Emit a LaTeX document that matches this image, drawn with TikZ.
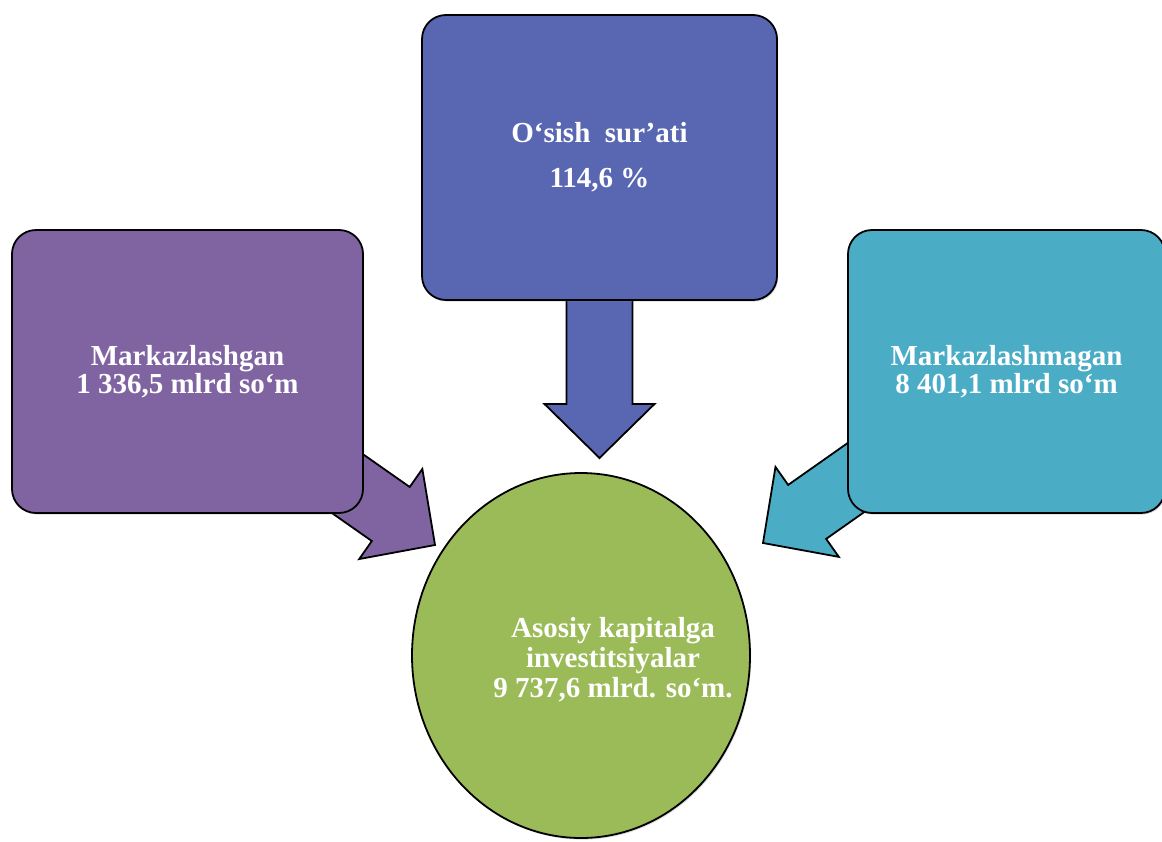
\documentclass[tikz,border=0pt]{standalone}
\usepackage{fontspec}
\setmainfont{Liberation Serif}
\usetikzlibrary{shapes.geometric,backgrounds,calc,shadows}

\definecolor{boxblue}{RGB}{89,102,178}
\definecolor{boxpurple}{RGB}{128,100,162}
\definecolor{boxteal}{RGB}{75,172,198}
\definecolor{circgreen}{RGB}{155,187,89}

\tikzset{
	panel/.style={draw=black, line width=0.9pt, rounded corners=12pt, inner sep=0pt,
		align=center, text=white, font=\bfseries\fontsize{14.5}{14}\selectfont,
		drop shadow={shadow xshift=0.6pt, shadow yshift=-0.8pt, opacity=0.3}},
	arrowbody/.style={draw=black, line width=0.9pt, fill=#1, line join=miter},
}

% fat arrow from #1 to #2, coloured #3
\newcommand{\fatarrow}[3]{%
	\draw[arrowbody=#3] let \p1=(#1), \p2=(#2),
		\n1={atan2(\y2-\y1,\x2-\x1)}, \n2={veclen(\x2-\x1,\y2-\y1)} in
		{[shift={(\p2)}, rotate=\n1] (0,0) -- (-27pt,27.5pt) -- (-27pt,16.5pt) -- (-\n2,16.5pt)
		-- (-\n2,-16.5pt) -- (-27pt,-16.5pt) -- (-27pt,-27.5pt) -- cycle};
}

\begin{document}
\begin{tikzpicture}[x=0.5pt,y=0.5pt]
	\useasboundingbox (0,0) rectangle (1162,-841);
	% Boxes
	\node[panel, fill=boxblue, minimum width=177.5pt, minimum height=142.5pt] (growth) at (599.5,-157.5)
		{O‘sish~~sur’ati\\[8.5pt]114,6 \%};
	\node[panel, fill=boxpurple, minimum width=175.5pt, minimum height=141.5pt] (central) at (187.5,-371.5)
		{Markazlashgan\\1 336,5 mlrd so‘m};
	\node[panel, fill=boxteal, minimum width=158.5pt, minimum height=141.5pt] (decentral) at (1006.5,-371.5)
		{Markazlashmagan\\8 401,1 mlrd so‘m};
	% Circle
	\node[ellipse, draw=black, line width=0.9pt, fill=circgreen, minimum width=169pt, minimum height=182.5pt,
		drop shadow={shadow xshift=0.6pt, shadow yshift=-0.8pt, opacity=0.3}] (invest) at (581,-655.5) {};
	\node[text=white, align=center, font=\bfseries\fontsize{14.5}{15}\selectfont] (investtext) at (613,-660)
		{Asosiy kapitalga\\investitsiyalar\\9 737,6 mlrd. so‘m.};
	% Arrows
	\coordinate (downtip) at (599.5,-458);
	\coordinate (lefttip) at (435,-545);
	\coordinate (righttip) at (763,-543);
	\begin{scope}[on background layer]
		\fatarrow{growth.center}{downtip}{boxblue}
		\fatarrow{central.center}{lefttip}{boxpurple}
		\fatarrow{decentral.center}{righttip}{boxteal}
	\end{scope}
\end{tikzpicture}
\end{document}
